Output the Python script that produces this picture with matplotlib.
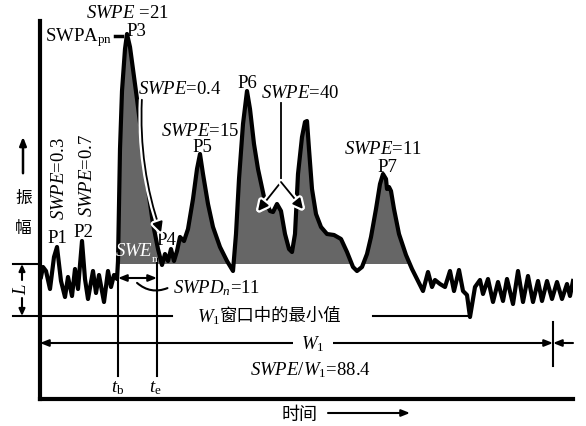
import numpy as np
import matplotlib
matplotlib.use('Agg')
import matplotlib.pyplot as plt
import matplotlib.patheffects as pe
from matplotlib.patches import FancyArrowPatch

plt.rcParams['font.family'] = ['Liberation Serif', 'Noto Sans CJK SC']
plt.rcParams['mathtext.fontset'] = 'custom'
plt.rcParams['mathtext.rm'] = 'Liberation Serif'
plt.rcParams['mathtext.it'] = 'Liberation Serif:italic'

# signal (time, amplitude)
signal_t = [1, 3, 6, 10, 14, 17, 21, 25, 28, 32, 35, 38, 42, 45, 48, 53, 56, 59,
            64, 68, 71, 74, 77, 78, 80, 82, 85, 87, 90, 93, 97, 103, 108, 113,
            118, 122, 125, 128, 131, 134, 137, 140, 144, 148, 153, 157, 160, 163,
            168, 173, 180, 187, 193, 196, 199, 203, 207, 210, 214, 218, 224, 230,
            233, 237, 241, 245, 249, 252, 255, 258, 262, 265, 267, 269, 272, 276,
            281, 287, 294, 301, 307, 313, 317, 322, 327, 331, 336, 340, 343, 346,
            347, 349, 351, 354, 359, 366, 372, 378, 383, 388, 392, 395, 400, 405,
            410, 414, 419, 423, 427, 430, 435, 440, 443, 448, 453, 458, 463, 467,
            473, 478, 483, 488, 493, 498, 502, 507, 512, 517, 522, 527, 530, 533]
signal_amp = [122, 132, 128, 110, 142, 152, 118, 102, 122, 103, 130, 110, 158, 120,
              100, 128, 106, 124, 97, 128, 112, 124, 120, 138, 250, 308, 350, 365,
              352, 330, 300, 252, 210, 175, 150, 134, 145, 138, 150, 138, 148, 162,
              158, 170, 200, 230, 245, 225, 195, 172, 152, 138, 128, 165, 220, 275,
              308, 290, 255, 230, 202, 188, 187, 195, 188, 165, 150, 147, 165, 225,
              262, 277, 278, 250, 210, 185, 172, 165, 164, 160, 147, 132, 128, 132,
              145, 162, 190, 215, 225, 220, 210, 212, 208, 190, 165, 144, 130, 118,
              108, 127, 112, 119, 115, 112, 128, 108, 129, 108, 104, 82, 112, 119,
              105, 120, 97, 117, 98, 120, 95, 128, 97, 123, 97, 118, 98, 118, 100,
              117, 100, 115, 103, 118]
baseline = 135
min_level = 83
t_b = 78
t_e = 117
w1_end = 513
swpe_w1 = 88.4
swpd_n = 11

t = np.array(signal_t)
amp = np.array(signal_amp)

fig = plt.figure(figsize=(5.86, 4.27), dpi=100)
ax = fig.add_axes([40 / 586, 27 / 427, 533 / 586, 378 / 427])
ax.set_xlim(0, 533)
ax.set_ylim(0, 378)
ax.set_xticks([])
ax.set_yticks([])
for s in ['top', 'right']:
    ax.spines[s].set_visible(False)
for s in ['left', 'bottom']:
    ax.spines[s].set_linewidth(3)

fs = 13.5
cjk = 'Noto Sans CJK SC'
halo = [pe.Stroke(linewidth=4.5, foreground='white'), pe.Normal()]

# shaded part above the baseline
ax.fill_between(t, baseline, amp, where=(amp > baseline) & (t >= t_b),
                interpolate=True, color='#666666', lw=0, zorder=1)
ax.plot(t, amp, color='black', lw=3.0, solid_joinstyle='round', zorder=3)

# SWE_n label in the shading
ax.text(75, 148, r'$SWE$', color='white', fontsize=fs, ha='left', va='center', zorder=4)
ax.text(112, 140, 'n', color='white', fontsize=8, ha='left', va='center', zorder=4)

# peak labels
peaks = ['P1', 'P2', 'P3', 'P4', 'P5', 'P6', 'P7']
peak_xy = [(17, 161), (43, 167), (96, 368), (126, 159), (162, 253), (207, 316), (347, 232)]
for name, (x, y) in zip(peaks, peak_xy):
    ax.text(x, y, name, fontsize=fs, ha='center', va='center', zorder=5)

ax.text(87, 387, r'$SWPE$ =21', fontsize=fs, ha='center', va='center')
ax.text(72, 362, r'SWPA$_{\rm pn}$', fontsize=fs, ha='right', va='center')
ax.plot([75, 82], [363, 363], color='black', lw=2.5, clip_on=False)
ax.text(98, 310, r'$SWPE$=0.4', fontsize=fs, ha='left', va='center')
ax.text(160, 269, r'$SWPE$=15', fontsize=fs, ha='center', va='center')
ax.text(260, 306, r'$SWPE$=40', fontsize=fs, ha='center', va='center')
ax.text(343, 251, r'$SWPE$=11', fontsize=fs, ha='center', va='center')
ax.text(19, 222, r'$SWPE$=0.3', fontsize=fs, rotation=90, ha='center', va='center')
ax.text(47, 225, r'$SWPE$=0.7', fontsize=fs, rotation=90, ha='center', va='center')

# arrow to P4
arr = FancyArrowPatch((102, 302), (122, 164), connectionstyle='arc3,rad=0.1',
                      arrowstyle='-|>,head_length=6,head_width=3', color='black',
                      lw=1.3, zorder=6)
arr.set_path_effects(halo)
ax.add_patch(arr)

# SWPE=40 fork
ax.plot([241, 241], [296, 217], color='black', lw=1.3, zorder=6, path_effects=halo)
for tip in [(218, 188), (263, 190)]:
    a = FancyArrowPatch((241, 217), tip, arrowstyle='-|>,head_length=6,head_width=3',
                        color='black', lw=1.3, shrinkA=0, shrinkB=0, zorder=6)
    a.set_path_effects(halo)
    ax.add_patch(a)

# amplitude label
ax.annotate('', xy=(-17, 265), xytext=(-17, 223), annotation_clip=False,
            arrowprops=dict(arrowstyle='-|>,head_length=0.5,head_width=0.2', color='black', lw=1.8))
ax.text(-16, 202, '振', fontsize=12, ha='center', va='center', family=cjk)
ax.text(-17, 171, '幅', fontsize=12, ha='center', va='center', family=cjk)

# L between baseline and minimum
ax.plot([-27, 0], [baseline, baseline], color='black', lw=1.5, clip_on=False)
ax.plot([-27, 132], [min_level, min_level], color='black', lw=1.5, clip_on=False)
ax.plot([333, 430], [min_level, min_level], color='black', lw=1.5, clip_on=False)
ax.annotate('', xy=(-18, baseline), xytext=(-18, 119), annotation_clip=False,
            arrowprops=dict(arrowstyle='-|>,head_length=0.4,head_width=0.18', color='black', lw=1.5, shrinkA=0, shrinkB=0))
ax.annotate('', xy=(-18, min_level), xytext=(-18, 101), annotation_clip=False,
            arrowprops=dict(arrowstyle='-|>,head_length=0.4,head_width=0.18', color='black', lw=1.5, shrinkA=0, shrinkB=0))
ax.text(-19, 111, r'$L$', fontsize=fs, rotation=90, ha='center', va='center')
ax.text(157, min_level, r'$W_{1}$', fontsize=fs, ha='left', va='center')
ax.text(180, min_level + 1, '窗口中的最小值', fontsize=12.5, ha='left', va='center', family=cjk)

# t_b, t_e and SWPD
ax.plot([t_b, t_b], [baseline, 23], color='black', lw=1.5, zorder=2)
ax.plot([t_e, t_e], [140, 23], color='black', lw=1.5, zorder=2)
ax.text(t_b, 12, r'$t_{\rm b}$', fontsize=fs, ha='center', va='center')
ax.text(t_e - 2, 12, r'$t_{\rm e}$', fontsize=fs, ha='center', va='center')
ax.annotate('', xy=(t_b, 121), xytext=(t_e, 121),
            arrowprops=dict(arrowstyle='<|-|>,head_length=0.5,head_width=0.2', color='black', lw=1.5, shrinkA=0, shrinkB=0))
ax.add_patch(FancyArrowPatch((95, 118), (130, 112), connectionstyle='arc3,rad=0.35',
                             arrowstyle='-', color='black', lw=1.5))
ax.text(133, 112, r'$SWPD_{n}$=%d' % swpd_n, fontsize=fs, ha='left', va='center')

# W1 span
ax.annotate('', xy=(0, 56), xytext=(w1_end, 56), annotation_clip=False,
            arrowprops=dict(arrowstyle='<|-|>,head_length=0.5,head_width=0.2', color='black', lw=1.5, shrinkA=0, shrinkB=0))
ax.text(273, 56, r'$W_{1}$', fontsize=fs, ha='center', va='center',
        bbox=dict(facecolor='white', edgecolor='none', pad=6))
ax.plot([w1_end, w1_end], [33, 77], color='black', lw=1.5)
ax.annotate('', xy=(w1_end, 56), xytext=(533, 56), annotation_clip=False,
            arrowprops=dict(arrowstyle='-|>,head_length=0.5,head_width=0.2', color='black', lw=1.5, shrinkA=0, shrinkB=0))
ax.text(270, 30, r'$SWPE/W_{1}$=%.1f' % swpe_w1, fontsize=fs, ha='center', va='center')

# time label
ax.text(260, -15, '时间', fontsize=13, ha='center', va='center', family=cjk)
ax.annotate('', xy=(370, -14), xytext=(288, -14), annotation_clip=False,
            arrowprops=dict(arrowstyle='-|>,head_length=0.5,head_width=0.2', color='black', lw=1.5, shrinkA=0, shrinkB=0))

fig.savefig('out.png', dpi=100)
